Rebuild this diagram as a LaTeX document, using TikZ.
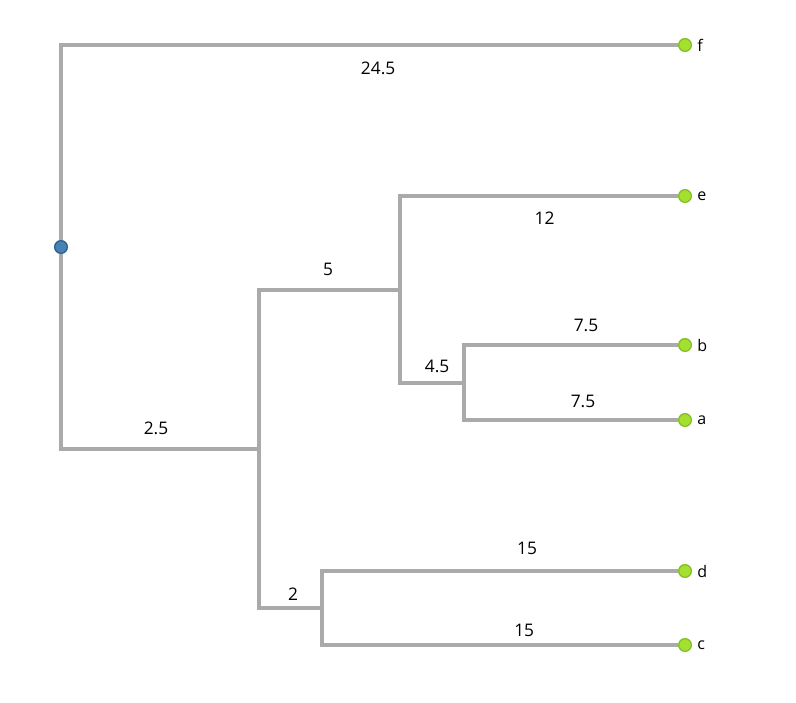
\documentclass[tikz,border=0pt]{standalone}
\usepackage{fontspec}
\setmainfont{Open Sans}
\usetikzlibrary{positioning}
\definecolor{treegray}{RGB}{170,170,170}
\definecolor{leafgreen}{RGB}{164,224,48}
\definecolor{leafedge}{RGB}{132,192,40}
\definecolor{rootblue}{RGB}{70,130,180}
\definecolor{rootedge}{RGB}{45,95,145}

\begin{document}
\begin{tikzpicture}[x=0.75pt,y=-0.75pt,font=\fontsize{13}{15}\selectfont,
    branch/.style={draw=treegray,line width=3pt},
    leaf/.style={circle,fill=leafgreen,draw=leafedge,line width=1pt,inner sep=0pt,minimum size=9.5pt,
      label={[font=\fontsize{12}{14}\selectfont,label distance=0.5pt]right:#1}},
    rootnode/.style={circle,fill=rootblue,draw=rootedge,line width=1pt,inner sep=0pt,minimum size=9.5pt},
    len/.style={inner sep=0pt,anchor=center}]
  \useasboundingbox (0,0) rectangle (796,703);
  % leaves and root
  \node[rootnode] (root) at (61,247) {};
  \node[leaf=f] (f) at (685,45) {};
  \node[leaf=e] (e) at (685,196) {};
  \node[leaf=b] (b) at (685,345) {};
  \node[leaf=a] (a) at (685,420) {};
  \node[leaf=d] (d) at (685,571) {};
  \node[leaf=c] (c) at (685,645) {};
  % inner joins
  \coordinate (u1) at (259,449);
  \coordinate (u2) at (400,290);
  \coordinate (u3) at (464,383);
  \coordinate (u4) at (322,608);
  % branches
  \draw[branch] (root) |- (f) node[len,pos=.757,yshift=-17.25pt]{24.5};
  \draw[branch] (root) |- (u1) node[len,pos=.74,yshift=15.75pt]{2.5};
  \draw[branch] (u1) |- (u2) node[len,pos=.745,yshift=15.75pt]{5};
  \draw[branch] (u1) |- (u4) node[len,pos=.77,yshift=10.5pt]{2};
  \draw[branch] (u2) |- (e) node[len,pos=.76,yshift=-16.5pt]{12};
  \draw[branch] (u2) |- (u3) node[len,pos=.79,yshift=12.75pt]{4.5};
  \draw[branch] (u3) |- (b) node[len,pos=.785,yshift=15pt]{7.5};
  \draw[branch] (u3) |- (a) node[len,pos=.778,yshift=14.25pt]{7.5};
  \draw[branch] (u4) |- (d) node[len,pos=.788,yshift=17.25pt]{15};
  \draw[branch] (u4) |- (c) node[len,pos=.784,yshift=11.25pt]{15};
\end{tikzpicture}
\end{document}
